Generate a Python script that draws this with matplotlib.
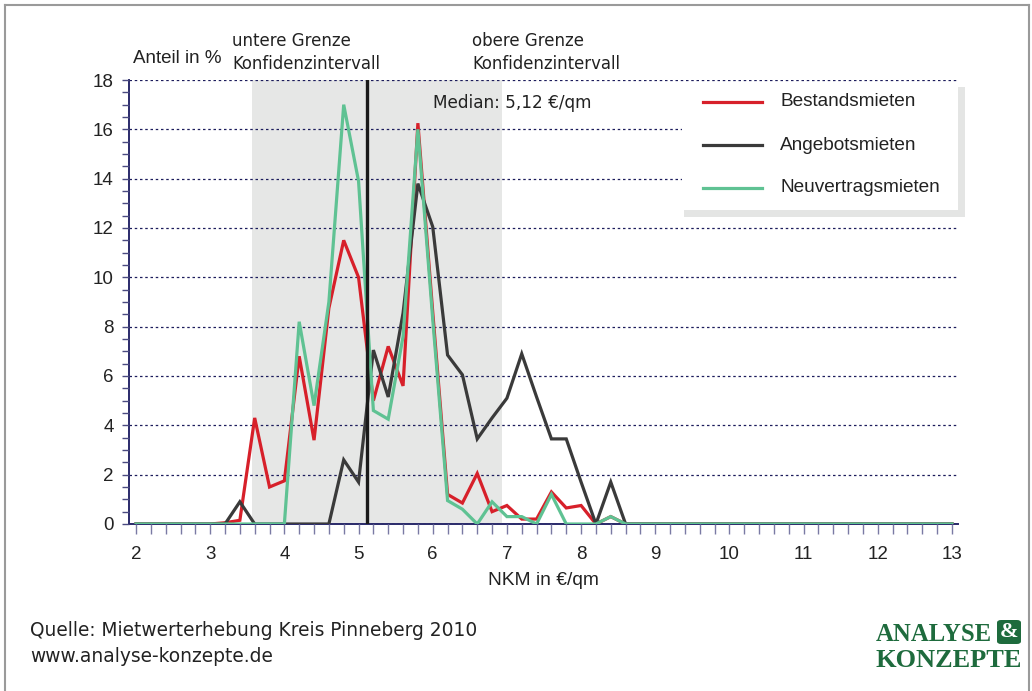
import numpy as np
import matplotlib
matplotlib.use("Agg")
import matplotlib.pyplot as plt
from matplotlib.patches import Rectangle, FancyBboxPatch
from matplotlib.lines import Line2D
from matplotlib.ticker import MultipleLocator

# NKM in €/qm, Klassen in 0,2-Schritten von 2 bis 13
nkm = np.linspace(2, 13, 56)

bestand = [0, 0, 0, 0, 0,
           0, 0.05, 0.15, 4.3, 1.5, 1.75, 6.8, 3.4, 8.75, 11.5, 10.0,
           5.0, 7.2, 5.6, 16.25, 8.6, 1.2, 0.85, 2.05, 0.5, 0.75,
           0.2, 0.2, 1.3, 0.65, 0.75, 0, 0.3, 0,
           0, 0, 0, 0, 0, 0, 0, 0, 0, 0, 0, 0, 0, 0, 0, 0, 0, 0, 0, 0, 0, 0]
angebot = [0, 0, 0, 0, 0,
           0, 0, 0.9, 0, 0, 0, 0, 0, 0, 2.6, 1.7,
           7.05, 5.15, 8.55, 13.8, 12.05, 6.85, 6.05, 3.45, 4.3, 5.1,
           6.9, 5.15, 3.45, 3.45, 1.7, 0, 1.7, 0,
           0, 0, 0, 0, 0, 0, 0, 0, 0, 0, 0, 0, 0, 0, 0, 0, 0, 0, 0, 0, 0, 0]
neuvertrag = [0, 0, 0, 0, 0,
              0, 0, 0, 0, 0, 0, 8.2, 4.8, 9.0, 17.0, 13.9,
              4.6, 4.25, 7.6, 16.0, 8.3, 0.95, 0.6, 0, 0.9, 0.3,
              0.3, 0, 1.2, 0, 0, 0, 0.3, 0,
              0, 0, 0, 0, 0, 0, 0, 0, 0, 0, 0, 0, 0, 0, 0, 0, 0, 0, 0, 0, 0, 0]

serien = ["Bestandsmieten", "Angebotsmieten", "Neuvertragsmieten"]
farben = ["#d7202a", "#3a3a3a", "#5fc293"]

ki_unten, ki_oben = 3.56, 6.94
median = 5.12

W, H = 1032, 691
plt.rcParams["font.family"] = ["Liberation Sans", "DejaVu Sans"]
fig = plt.figure(figsize=(W / 100, H / 100), dpi=100)


def fx(x):
    return x / W


def fy(y):
    return 1 - y / H


ax = fig.add_axes([fx(129), fy(524), (958 - 129) / W, (524 - 80) / H])
ax.set_xlim(2 - 7 / 74.18, 13 + 6 / 74.18)
ax.set_ylim(0, 18)

ax.axvspan(ki_unten, ki_oben, color="#e6e7e6", zorder=0, lw=0)
ax.yaxis.grid(True, color="#1c1c5c", linestyle=(0, (2, 2.2)), lw=0.9, zorder=1)
ax.set_axisbelow(False)

for werte, name, c in zip([bestand, angebot, neuvertrag], serien, farben):
    ax.plot(nkm, werte, color=c, lw=2.3, zorder=3, solid_joinstyle="miter")
ax.axvline(median, color="#1a1a1a", lw=2.4, zorder=4)

ax.xaxis.set_major_locator(MultipleLocator(1))
ax.xaxis.set_minor_locator(MultipleLocator(0.2))
ax.yaxis.set_major_locator(MultipleLocator(2))
ax.yaxis.set_minor_locator(MultipleLocator(0.5))
ax.tick_params(axis="x", which="both", direction="out", length=7, width=1,
               color="#7a7aa4", labelsize=13.5, pad=9, labelcolor="#222222")
ax.tick_params(axis="y", which="both", direction="out", length=5, width=1,
               color="#4a4a80", labelsize=13.5, pad=6, labelcolor="#222222")
for s in ["top", "right"]:
    ax.spines[s].set_visible(False)
for s in ["left", "bottom"]:
    ax.spines[s].set_color("#2a2a6a")
    ax.spines[s].set_linewidth(1.4)

ax.set_xlabel("NKM in €/qm", fontsize=13.8, color="#222222", labelpad=6)

# Texte oben
fig.text(fx(133), fy(63), "Anteil in %", fontsize=13.5, color="#222222", va="baseline")
fig.text(fx(232), fy(46), "untere Grenze", fontsize=12, family="DejaVu Sans",
         color="#222222", va="baseline")
fig.text(fx(232), fy(69), "Konfidenzintervall", fontsize=11.9, family="DejaVu Sans",
         color="#222222", va="baseline")
fig.text(fx(472), fy(46), "obere Grenze", fontsize=12, family="DejaVu Sans",
         color="#222222", va="baseline")
fig.text(fx(472), fy(69), "Konfidenzintervall", fontsize=11.9, family="DejaVu Sans",
         color="#222222", va="baseline")
fig.text(fx(433), fy(108), "Median: 5,12 €/qm", fontsize=12.2, family="DejaVu Sans",
         color="#222222", va="baseline")

# Legende mit Schatten
fig.patches.append(Rectangle((fx(684), fy(217)), (965 - 684) / W, (217 - 87) / H,
                             transform=fig.transFigure, facecolor="#e4e5e4",
                             edgecolor="none", zorder=5))
fig.patches.append(Rectangle((fx(682), fy(210)), (958 - 682) / W, (210 - 83) / H,
                             transform=fig.transFigure, facecolor="white",
                             edgecolor="none", zorder=6))
for i, (name, c) in enumerate(zip(serien, farben)):
    yy = 102 + 43 * i
    fig.lines.append(Line2D([fx(703), fx(762)], [fy(yy), fy(yy)], color=c, lw=2.3,
                            transform=fig.transFigure, zorder=7))
    fig.text(fx(780), fy(yy), name, fontsize=13.7, color="#222222", va="center", zorder=8)

# Quelle
fig.text(fx(30), fy(636), "Quelle: Mietwerterhebung Kreis Pinneberg 2010", fontsize=13.4,
         family="DejaVu Sans", color="#222222", va="baseline")
fig.text(fx(30), fy(662), "www.analyse-konzepte.de", fontsize=13.4,
         family="DejaVu Sans", color="#222222", va="baseline")

# Logo
gruen = "#1e6b3d"
fig.text(fx(876), fy(641), "ANALYSE", fontsize=17.8, family="Liberation Serif",
         weight="bold", color=gruen, va="baseline")
fig.text(fx(876), fy(667), "KONZEPTE", fontsize=19, family="Liberation Serif",
         weight="bold", color=gruen, va="baseline")
fig.patches.append(FancyBboxPatch((fx(997), fy(644)), 24 / W, 24 / H,
                                  boxstyle="round,pad=0,rounding_size=0.004",
                                  transform=fig.transFigure, facecolor=gruen,
                                  edgecolor="none", zorder=5))
fig.text(fx(1009), fy(632), "&", fontsize=16, family="Liberation Serif", weight="bold",
         color="white", ha="center", va="center", zorder=6)

# Rahmen
for xs, ys in [([5, 1029], [5, 5]), ([5, 5], [5, 700]), ([1029, 1029], [5, 700])]:
    fig.lines.append(Line2D([fx(x) for x in xs], [fy(y) for y in ys], color="#9a9a9a",
                            lw=1.5, transform=fig.transFigure))

fig.savefig("out.png", dpi=100)
